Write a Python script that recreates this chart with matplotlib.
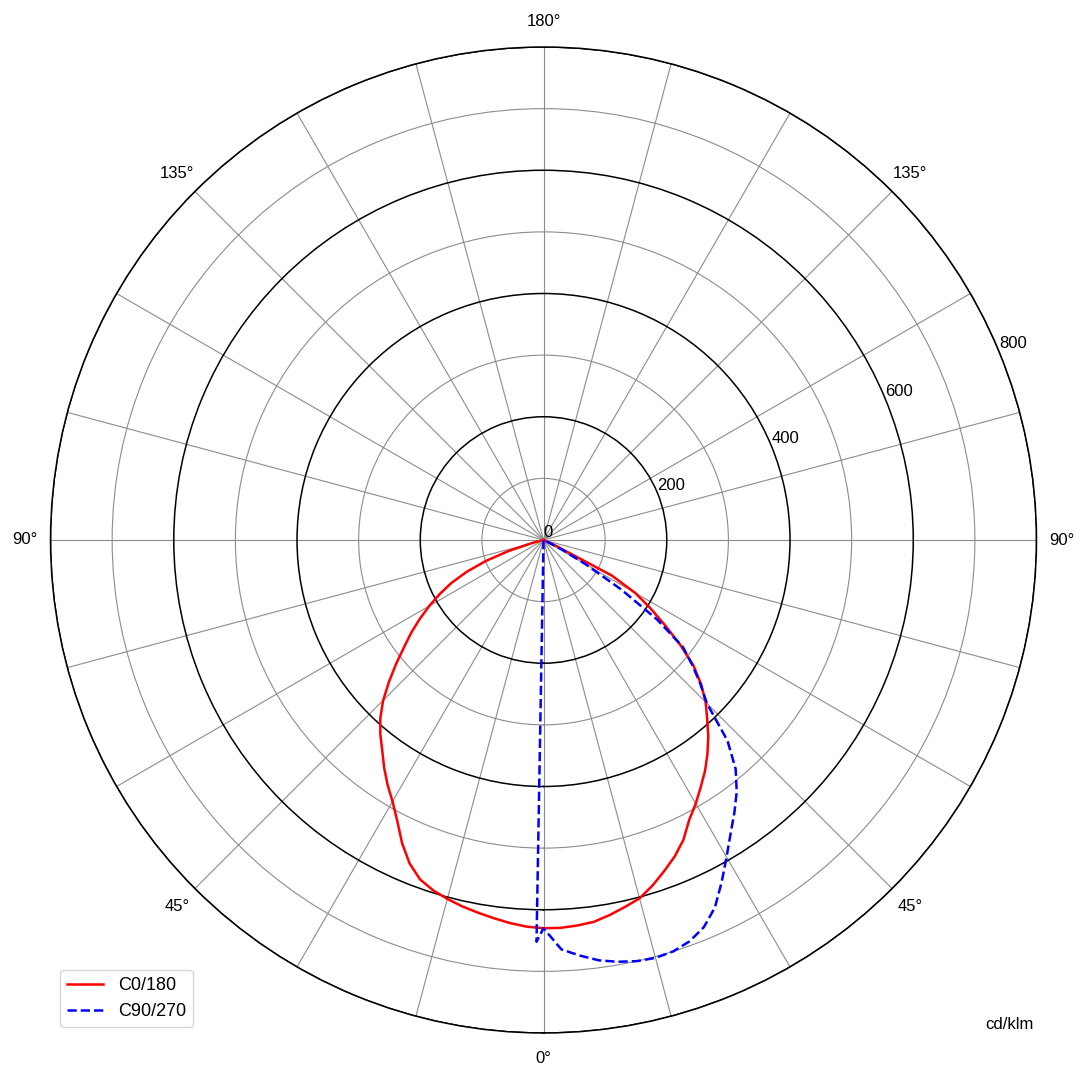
import numpy as np
import matplotlib.pyplot as plt

plt.rcParams['font.family'] = ['Liberation Sans', 'DejaVu Sans']

# gamma angles (deg), 2.5 deg steps, and intensities in cd/klm
gamma = np.arange(0, 90.1, 2.5)
c0 = [630, 630, 628, 625, 618, 610, 602, 588, 572, 556,
      537, 512, 494, 475, 457, 437, 416, 393, 372, 347,
      318, 280, 240, 205, 172, 125, 20, 0, 0, 0,
      0, 0, 0, 0, 0, 0, 0]
c180 = [630, 628, 624, 619, 614, 609, 603, 596, 586, 568,
        543, 514, 490, 471, 451, 430, 412, 392, 368, 340,
        312, 285, 262, 238, 214, 190, 165, 135, 100, 60,
        20, 3, 0, 0, 0, 0, 0]
c90 = [630, 665, 677, 688, 695, 700, 702, 700, 693, 680,
       658, 626, 594, 565, 540, 515, 485, 442, 375, 345,
       315, 285, 225, 150, 80, 35, 5, 0, 0, 0,
       0, 0, 0, 0, 0, 0, 0]
c270 = [630, 652, 650, 646, 640, 632, 622, 610, 596, 580,
        562, 542, 520, 498, 475, 452, 428, 404, 380, 354,
        326, 296, 264, 230, 194, 156, 118, 82, 50, 24,
        8, 2, 0, 0, 0, 0, 0]

r_ticks = [0, 100, 200, 300, 400, 500, 600, 700, 800]
theta_ticks = list(range(0, 360, 15))
theta_names = {0: '0°', 45: '45°', 90: '90°', 135: '135°', 180: '180°',
               225: '135°', 270: '90°', 315: '45°'}

g = np.radians(gamma)

# C0/180: C180 on the left (negative gamma), C0 on the right
red_t = np.concatenate([-g[::-1][:-1], g])
red_r = np.concatenate([np.array(c180)[::-1][:-1], c0])

# C90/270: the C270 half collapses onto a near-vertical line in the source
blue_t = np.concatenate([np.full(len(gamma) - 1, np.radians(-1.0)), g])
blue_r = np.concatenate([np.array(c270)[::-1][:-1], c90])

fig = plt.figure(figsize=(10.89, 10.80), dpi=100)
ax = fig.add_axes([0.0464, 0.0435, 0.9054, 0.913], projection='polar')
ax.set_theta_zero_location('S')
ax.set_theta_direction(1)

ax.plot(red_t, red_r, color='red', lw=1.8, label='C0/180')
ax.plot(blue_t, blue_r, color='blue', lw=1.8, ls='--', label='C90/270')

ax.set_ylim(0, 800)
ax.set_rticks(r_ticks)
ax.set_yticklabels([str(r) if r % 200 == 0 else '' for r in r_ticks], fontsize=12)
ax.set_rlabel_position(112.5)
ax.set_thetagrids(theta_ticks, [theta_names.get(t, '') for t in theta_ticks], fontsize=12)

ax.xaxis.grid(True, color='#8c8c8c', lw=0.8)
for r, gl in zip(r_ticks, ax.yaxis.get_gridlines()):
    if r % 200 == 0:
        gl.set_color('black')
        gl.set_linewidth(1.1)
    else:
        gl.set_color('#8c8c8c')
        gl.set_linewidth(0.8)
ax.spines['polar'].set_linewidth(1.1)
ax.tick_params(axis='x', pad=8)

fig.legend(loc='lower left', bbox_to_anchor=(0.055, 0.049), borderaxespad=0,
           fontsize=13)
fig.text(0.927, 0.051, 'cd/klm', fontsize=12, ha='center', va='center')

fig.savefig('out.png', dpi=100)
